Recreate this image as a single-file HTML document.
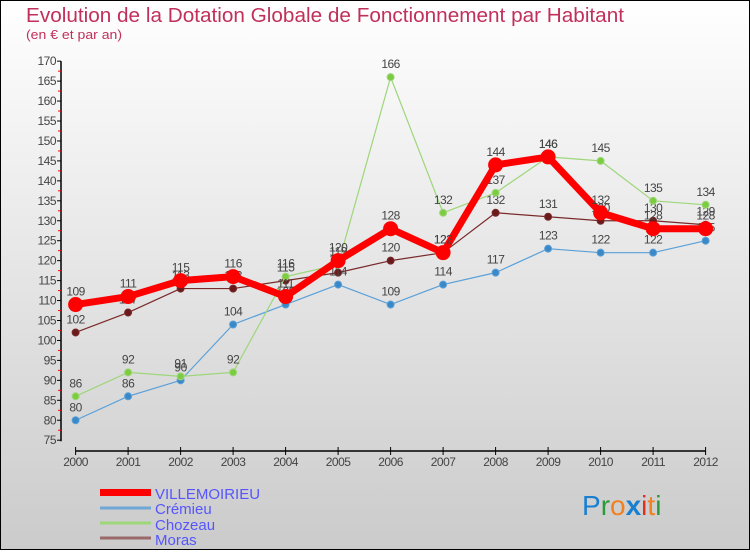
<!DOCTYPE html>
<html><head><meta charset="utf-8"><style>
html,body{margin:0;padding:0}
body{width:750px;height:550px;overflow:hidden;font-family:"Liberation Sans",sans-serif}
</style></head><body>
<svg width="750" height="550" xmlns="http://www.w3.org/2000/svg" id="chart">
<defs><linearGradient id="bg" x1="0" y1="0" x2="0" y2="1"><stop offset="0" stop-color="#ffffff"/><stop offset="1" stop-color="#cbcbcb"/></linearGradient></defs>
<rect x="0.5" y="0.5" width="749" height="549" fill="url(#bg)" stroke="#000"/>
<text x="26" y="22" font-size="20.5" fill="#c0305a" textLength="598" lengthAdjust="spacingAndGlyphs">Evolution de la Dotation Globale de Fonctionnement par Habitant</text>
<text x="26" y="39" font-size="13" fill="#c0305a" textLength="96" lengthAdjust="spacingAndGlyphs">(en € et par an)</text>
<g id="axes"></g>
<g id="series"></g>
<g>
<rect x="100" y="489" width="51" height="7" fill="#f00"/>
<text x="155" y="499" font-size="15" fill="#5555ff">VILLEMOIRIEU</text>
<line x1="100" y1="508" x2="151" y2="508" stroke="#6fa7d6" stroke-width="3"/>
<text x="155" y="514" font-size="15" fill="#5555ff">Crémieu</text>
<line x1="100" y1="523" x2="151" y2="523" stroke="#9ed67a" stroke-width="3"/>
<text x="155" y="530" font-size="15" fill="#5555ff">Chozeau</text>
<line x1="100" y1="538" x2="151" y2="538" stroke="#9a6a6a" stroke-width="3"/>
<text x="155" y="545" font-size="15" fill="#5555ff">Moras</text>
</g>
<g font-size="28">
<text x="582" y="515"><tspan fill="#1a7fd0">P</tspan><tspan fill="#2a9a3a">r</tspan><tspan fill="#f08020">o</tspan><tspan fill="#1a7fd0" font-weight="bold">x</tspan><tspan fill="#e03020">i</tspan><tspan fill="#f08020">t</tspan><tspan fill="#2a9a3a">i</tspan></text>
</g>
</svg>
<script>
const years = [2000,2001,2002,2003,2004,2005,2006,2007,2008,2009,2010,2011,2012];
const villemoirieu = [109,111,115,116,111,120,128,122,144,146,132,128,128];
const cremieu = [80,86,90,104,109,114,109,114,117,123,122,122,125];
const chozeau = [86,92,91,92,116,119,166,132,137,146,145,135,134];
const moras = [102,107,113,113,115,117,120,122,132,131,130,130,129];
const yTicks = [75,80,85,90,95,100,105,110,115,120,125,130,135,140,145,150,155,160,165,170];

const NS = 'http://www.w3.org/2000/svg';
const X0 = 75.6, XSTEP = 52.5, Y75 = 440.2, YU = 3.99;
const XAXIS_Y = 451;
function xs(i){return X0 + i*XSTEP;}
function ys(v){return Y75 - (v-75)*YU;}
function mk(tag, attrs, parent){const e=document.createElementNS(NS,tag);for(const k in attrs)e.setAttribute(k,attrs[k]);parent.appendChild(e);return e;}

const axes = document.getElementById('axes');
let yl = mk('line',{x1:61,y1:ys(170),x2:61,y2:ys(75)+1,stroke:'#000','stroke-width':1.5},axes);


yTicks.forEach(v=>{
  const t = mk('line',{x1:57,y1:ys(v),x2:61,y2:ys(v),stroke:'#000'},axes);
  
  
  if(v<170){
    const m = mk('line',{x1:58,y1:ys(v+2.5),x2:61,y2:ys(v+2.5),stroke:'#f00'},axes);
    
    
  }
  const l = mk('text',{x:56,y:ys(v)+4,'font-size':12,fill:'#444','text-anchor':'end','letter-spacing':'-0.5'},axes);
  l.textContent = v;
  
  
});
let xl = mk('line',{x1:xs(0),y1:XAXIS_Y,x2:xs(12),y2:XAXIS_Y,stroke:'#000','stroke-width':1.5},axes);


years.forEach((yr,i)=>{
  const t = mk('line',{x1:xs(i),y1:XAXIS_Y-4,x2:xs(i),y2:XAXIS_Y+4,stroke:'#000'},axes);
  
  
  const l = mk('text',{x:xs(i),y:XAXIS_Y+15,'font-size':12,fill:'#444','text-anchor':'middle','letter-spacing':'-0.5'},axes);
  l.textContent = yr;
  
  
});

const sg = document.getElementById('series');
function drawSeries(name, vals, color, dot, lw, r){
  const g = mk('g',{},sg);
  
  
  const pts = vals.map((v,i)=>xs(i)+','+ys(v)).join(' ');
  const pl = mk('polyline',{points:pts,fill:'none',stroke:color,'stroke-width':lw,'stroke-linejoin':'round'},g);
  
  
  vals.forEach((v,i)=>{
    const c = mk('circle',{cx:xs(i),cy:ys(v),r:r,fill:dot,stroke:color,'stroke-width':1},g);
    
    
    const t = mk('text',{x:xs(i),y:ys(v)-9,'font-size':12,fill:'#444','text-anchor':'middle','letter-spacing':'-0.5'},g);
    t.textContent = v;
    
    
  });
}
drawSeries('moras', moras, '#7a2a2a', '#6a1a1a', 1.2, 3.5);
drawSeries('cremieu', cremieu, '#5aa0d8', '#3a88c8', 1.2, 3.5);
drawSeries('chozeau', chozeau, '#9ed67a', '#7ccc40', 1.2, 3.5);
drawSeries('villemoirieu', villemoirieu, '#ff0000', '#ff0000', 7, 7);
</script>
</body></html>
